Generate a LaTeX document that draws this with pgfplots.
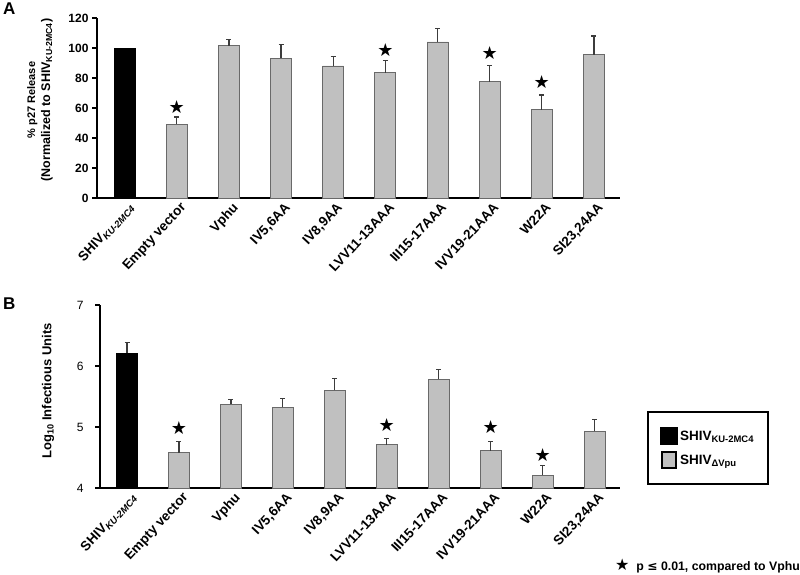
\documentclass[border=0pt]{standalone}
\usepackage{pgfplots}
\pgfplotsset{compat=1.18}
\usepackage{fontspec}
\setmainfont{Liberation Sans}
\newfontfamily\dejavu{DejaVu Sans}
\definecolor{barg}{RGB}{192,192,192}
\definecolor{edg}{RGB}{105,105,105}
\definecolor{errc}{RGB}{60,60,60}

\pgfplotstableread{
x y
0 100
}\dataAk
\pgfplotstableread{
x y e
1 49.3 4.7
2 101.5 4.3
3 93 9.5
4 88 6.5
5 83.5 8
6 104 9
7 77.5 11
8 58.7 10
9 95.5 12.5
}\dataA
\pgfplotstableread{
x y e
0 6.21 0.18
}\dataBk
\pgfplotstableread{
x y e
1 4.58 0.18
2 5.37 0.08
3 5.32 0.15
4 5.60 0.19
5 4.71 0.10
6 5.78 0.16
7 4.61 0.15
8 4.21 0.16
9 4.93 0.19
}\dataB

\pgfplotsset{
  panel/.style={
    scale only axis, clip=false,
    axis lines*=left,
    axis line style={line width=2.5pt, black},
    xtick={0,...,9}, xtick style={draw=none},
    xticklabels={SHIV\textsubscript{\itshape KU-2MC4},Empty vector,Vphu,{IV5,6AA},{IV8,9AA},LVV11-13AAA,III15-17AAA,IVV19-21AAA,W22A,{SI23,24AA}},
    xticklabel style={rotate=47, anchor=north east, font=\bfseries\fontsize{13.5}{15}\selectfont, inner sep=1pt, xshift=4pt},
    ytick style={line width=1.5pt, black},
    major tick length=5pt, tick align=outside,
    /pgf/number format/assume math mode=true,
  },
  bar0/.style={ybar, bar width=21pt, bar shift=0pt, forget plot},
  bars/.style={ybar, bar width=21pt, bar shift=0pt, forget plot,
    error bars/y dir=plus, error bars/y explicit,
    error bars/error bar style={errc, line width=1.2pt},
    error bars/error mark options={rotate=90, mark size=2.5pt, line width=1.2pt, errc}},
  stars/.style={draw=none, mark=none, forget plot,
    nodes near coords={\dejavu\fontsize{18}{18}\selectfont ★},
    every node near coord/.append style={anchor=center, inner sep=0pt}},
}

\begin{document}
\begin{tikzpicture}
\useasboundingbox (0,0) rectangle (800pt,574pt);

% Panel A
\begin{axis}[panel,
  at={(97pt,376pt)}, anchor=south west,
  width=523pt, height=180pt,
  xmin=-0.53, xmax=9.5, ymin=0, ymax=120,
  ytick={0,20,...,120},
  yticklabel style={font=\bfseries\fontsize{12}{14}\selectfont},
  ylabel={{\fontsize{11}{15}\selectfont\% p27 Release}\\(Normalized to SHIV\textsubscript{KU-2MC4})},
  ylabel style={at={(axis description cs:-0.109,0.544)}, anchor=center, align=center, font=\bfseries\fontsize{12.5}{15}\selectfont},
]
\addplot[bar0, fill=black, draw=black] table[x=x,y=y]{\dataAk};
\addplot[bars, fill=barg, draw=edg, line width=0.9pt] table[x=x,y=y,y error=e]{\dataA};
\addplot[stars] coordinates {(1,60.7) (5,98.7) (7,96.7) (8,77.3)};
\end{axis}

% Panel B
\begin{axis}[panel,
  at={(100pt,86pt)}, anchor=south west,
  width=520pt, height=183pt,
  xmin=-0.52, xmax=9.49, ymin=4, ymax=7,
  ytick={4,5,6,7},
  yticklabel style={font=\fontsize{12}{14}\selectfont, xshift=-8pt},
  ylabel={Log\textsubscript{10} Infectious Units},
  ylabel style={at={(axis description cs:-0.1,0.53)}, anchor=center, font=\bfseries\fontsize{13}{15}\selectfont},
  legend style={at={(1.052,0.42)}, anchor=north west, draw=black, line width=2pt,
    font=\bfseries\fontsize{13.5}{15}\selectfont, inner xsep=12pt, inner ysep=15pt,
    row sep=6pt, cells={anchor=west}},
]
\addplot[bars, fill=black, draw=black] table[x=x,y=y,y error=e]{\dataBk};
\addplot[bars, fill=barg, draw=edg, line width=0.9pt] table[x=x,y=y,y error=e]{\dataB};
\addplot[stars] coordinates {(1,4.98) (5,5.03) (7,5.0) (8,4.54)};
\addlegendimage{legend image code/.code={\fill[black] (0pt,-8pt) rectangle (16pt,8pt);}}
\addlegendentry{SHIV\textsubscript{KU-2MC4}}
\addlegendimage{legend image code/.code={\draw[fill=barg,draw=black,line width=2pt] (1pt,-8pt) rectangle (15pt,8pt);}}
\addlegendentry{SHIV\textsubscript{ΔVpu}}
\end{axis}

\node[anchor=north west, font=\bfseries\fontsize{17}{17}\selectfont, inner sep=0pt] at (3pt,571pt) {A};
\node[anchor=north west, font=\bfseries\fontsize{17}{17}\selectfont, inner sep=0pt] at (3pt,276pt) {B};
\node[anchor=base east, font=\bfseries\fontsize{12.3}{14}\selectfont, inner sep=0pt] at (800pt,4pt) {{\dejavu\fontsize{16}{16}\selectfont ★}\hspace{7pt}p {\dejavu ≤} 0.01, compared to Vphu};
\end{tikzpicture}
\end{document}
